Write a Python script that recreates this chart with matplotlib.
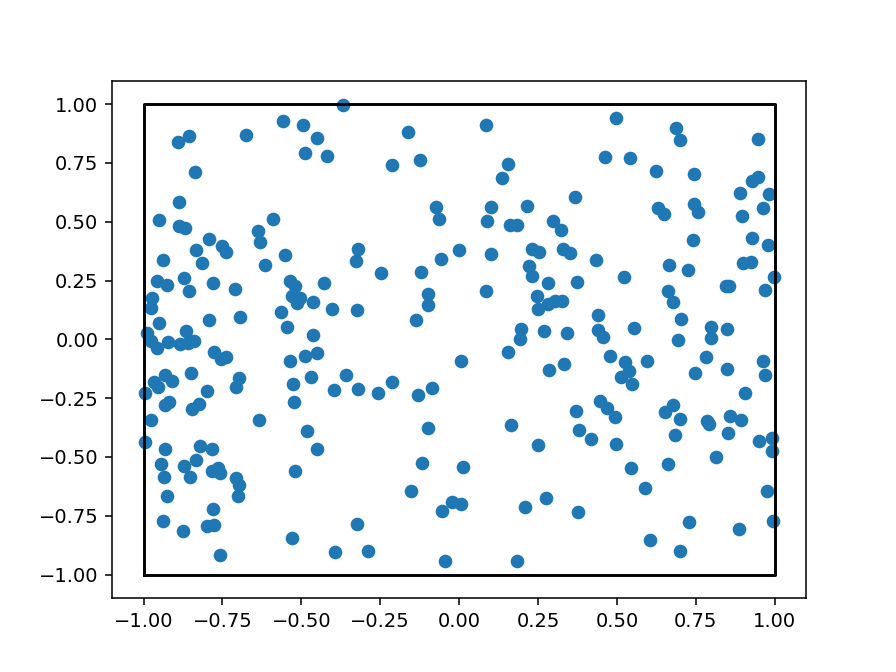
import matplotlib
matplotlib.use("Agg")
import matplotlib.pyplot as plt

# points
xs = [-0.89, -0.855, -0.677, -0.557, -0.494, -0.836, -0.889, -0.952, -0.888, -0.87,
      -0.591, -0.637, -0.632, -0.792, -0.833, -0.75, -0.738, -0.94, -0.553, -0.816,
      -0.616, -0.959, -0.927, -0.872, -0.856, -0.78, -0.709, -0.972, -0.978, -0.951,
      -0.792, -0.693, -0.563, -0.547, -0.535, -0.52, -0.53, -0.505, -0.515, -0.988,
      -0.978, -0.957, -0.922, -0.885, -0.866, -0.86, -0.84, -0.777, -0.754, -0.738,
      -0.535, -0.851, -0.932, -0.967, -0.953, -0.909, -0.697, -0.708, -0.526, -0.994,
      -0.798, -0.932, -0.92, -0.848, -0.825, -0.522, -0.976, -0.633, -0.997, -0.932,
      -0.822, -0.784, -0.944, -0.872, -0.835, -0.934, -0.854, -0.784, -0.764, -0.758,
      -0.707, -0.698, -0.7, -0.519, -0.927, -0.781, -0.939, -0.874, -0.798, -0.778,
      -0.531, -0.758, -0.367, -0.451, -0.487, -0.418, -0.161, -0.212, -0.125, -0.074,
      -0.064, -0.322, -0.328, -0.058, 0.0, -0.248, -0.121, -0.429, -0.462, -0.402,
      -0.323, -0.1, -0.1, -0.138, -0.462, -0.449, -0.49, 0.007, -0.468, -0.36,
      -0.397, -0.32, -0.256, -0.212, -0.132, -0.087, -0.481, -0.449, -0.098, -0.117,
      0.012, -0.152, -0.022, 0.007, -0.055, -0.323, -0.395, -0.29, -0.046, 0.086,
      0.498, 0.156, 0.136, 0.462, 0.54, 0.367, 0.101, 0.214, 0.089, 0.161,
      0.184, 0.297, 0.322, 0.101, 0.23, 0.253, 0.33, 0.35, 0.433, 0.221,
      0.231, 0.28, 0.373, 0.522, 0.086, 0.246, 0.25, 0.281, 0.304, 0.327,
      0.439, 0.44, 0.457, 0.197, 0.192, 0.269, 0.341, 0.156, 0.285, 0.333,
      0.477, 0.525, 0.537, 0.512, 0.547, 0.445, 0.467, 0.494, 0.369, 0.163,
      0.379, 0.417, 0.496, 0.251, 0.544, 0.209, 0.275, 0.375, 0.184, 0.688,
      0.699, 0.948, 0.625, 0.745, 0.927, 0.948, 0.891, 0.982, 0.631, 0.649,
      0.743, 0.758, 0.895, 0.961, 0.741, 0.929, 0.978, 0.665, 0.724, 0.899,
      0.925, 0.996, 0.845, 0.855, 0.968, 0.663, 0.677, 0.704, 0.555, 0.797,
      0.798, 0.848, 0.692, 0.594, 0.782, 0.747, 0.849, 0.964, 0.969, 0.904,
      0.676, 0.652, 0.698, 0.785, 0.792, 0.858, 0.894, 0.683, 0.852, 0.95,
      0.99, 0.99, 0.815, 0.663, 0.589, 0.974, 0.729, 0.886, 0.993, 0.604,
      0.7]
ys = [0.84, 0.863, 0.871, 0.928, 0.911, 0.71, 0.585, 0.506, 0.483, 0.472,
      0.512, 0.459, 0.415, 0.427, 0.379, 0.396, 0.373, 0.337, 0.357, 0.326,
      0.318, 0.247, 0.23, 0.26, 0.206, 0.239, 0.216, 0.175, 0.135, 0.069,
      0.081, 0.096, 0.117, 0.054, 0.25, 0.225, 0.185, 0.175, 0.155, 0.026,
      -0.006, -0.035, -0.013, -0.019, 0.036, -0.016, -0.009, -0.052, -0.084, -0.077,
      -0.094, -0.145, -0.151, -0.183, -0.202, -0.179, -0.165, -0.203, -0.189, -0.23,
      -0.219, -0.278, -0.265, -0.296, -0.275, -0.268, -0.342, -0.343, -0.438, -0.468,
      -0.455, -0.466, -0.532, -0.54, -0.513, -0.587, -0.587, -0.558, -0.549, -0.568,
      -0.591, -0.619, -0.665, -0.561, -0.667, -0.72, -0.771, -0.816, -0.793, -0.788,
      -0.844, -0.915, 0.998, 0.854, 0.793, 0.778, 0.882, 0.741, 0.764, 0.564,
      0.51, 0.383, 0.335, 0.341, 0.378, 0.284, 0.288, 0.241, 0.159, 0.131,
      0.125, 0.192, 0.148, 0.082, 0.018, -0.059, -0.071, -0.093, -0.162, -0.152,
      -0.216, -0.209, -0.23, -0.183, -0.237, -0.207, -0.391, -0.468, -0.376, -0.526,
      -0.541, -0.643, -0.69, -0.7, -0.731, -0.785, -0.902, -0.898, -0.941, 0.912,
      0.943, 0.746, 0.687, 0.774, 0.769, 0.606, 0.563, 0.568, 0.505, 0.485,
      0.485, 0.503, 0.466, 0.364, 0.383, 0.372, 0.386, 0.369, 0.336, 0.312,
      0.27, 0.241, 0.245, 0.265, 0.205, 0.185, 0.131, 0.152, 0.161, 0.161,
      0.104, 0.039, 0.011, 0.043, 0.001, 0.036, 0.026, -0.053, -0.13, -0.103,
      -0.07, -0.098, -0.136, -0.162, -0.19, -0.264, -0.29, -0.328, -0.306, -0.366,
      -0.387, -0.425, -0.445, -0.451, -0.549, -0.714, -0.674, -0.735, -0.941, 0.897,
      0.846, 0.851, 0.716, 0.704, 0.673, 0.691, 0.622, 0.617, 0.56, 0.534,
      0.574, 0.543, 0.523, 0.56, 0.421, 0.432, 0.401, 0.316, 0.295, 0.323,
      0.33, 0.267, 0.228, 0.225, 0.21, 0.207, 0.159, 0.088, 0.048, 0.054,
      0.005, 0.046, -0.003, -0.094, -0.073, -0.141, -0.125, -0.094, -0.151, -0.228,
      -0.279, -0.308, -0.339, -0.345, -0.36, -0.325, -0.343, -0.407, -0.4, -0.431,
      -0.42, -0.473, -0.502, -0.53, -0.632, -0.643, -0.776, -0.805, -0.771, -0.853,
      -0.898]

# the square the points live in
box_x = [-1, 1, 1, -1, -1]
box_y = [-1, -1, 1, 1, -1]

fig = plt.figure(figsize=(6.4, 4.8), dpi=140)
plt.plot(box_x, box_y, "k-")
plt.scatter(xs, ys)
plt.savefig("out.png")
